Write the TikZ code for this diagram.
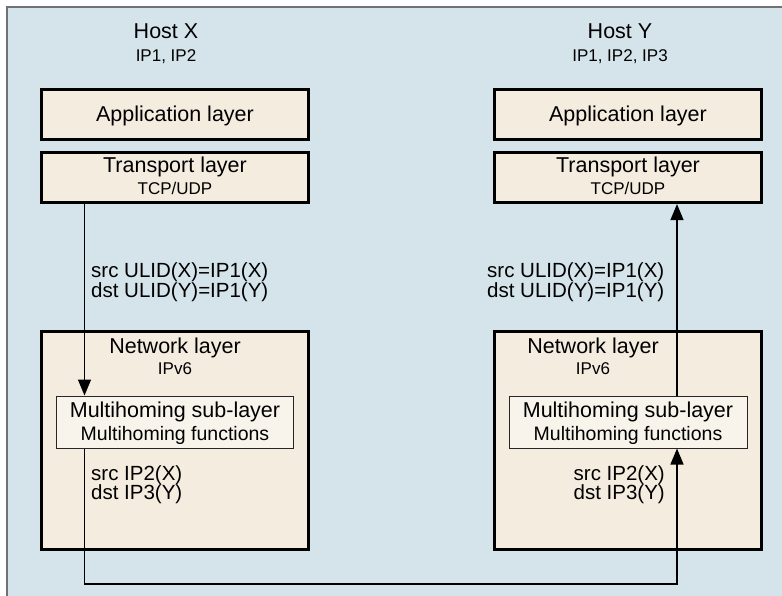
\documentclass[tikz,border=0pt]{standalone}
\usepackage{fontspec}
\setmainfont{Liberation Sans}
\usetikzlibrary{arrows.meta}

\definecolor{skyback}{HTML}{D5E3EB}
\definecolor{layerfill}{HTML}{F5ECE0}
\definecolor{subfill}{HTML}{F8F4EB}
\definecolor{framegray}{HTML}{6E7175}

\tikzset{
  layerbox/.style={draw=black, line width=3.2pt, fill=layerfill, rectangle,
    inner sep=0pt, minimum width=267pt},
  subbox/.style={draw=black!85, line width=1pt, fill=subfill, rectangle,
    inner sep=0pt, minimum width=237pt, minimum height=52pt},
  bigtxt/.style={inner sep=0pt, anchor=base, font=\fontsize{21.5}{24}\selectfont},
  midtxt/.style={inner sep=0pt, anchor=base, font=\fontsize{19.5}{22}\selectfont},
  smalltxt/.style={inner sep=0pt, anchor=base, font=\fontsize{17}{20}\selectfont},
  addrtxt/.style={inner sep=0pt, anchor=base west, font=\fontsize{20.5}{23}\selectfont},
  flow/.style={draw=black, line width=1.3pt,
    -{Triangle[length=16pt, width=13pt]}},
}

\begin{document}
\begin{tikzpicture}[x=1pt, y=-1pt]
\useasboundingbox (0,0) rectangle (782,596);
\clip (0,0) rectangle (782,596);

% page background and outer frame
\fill[white] (0,0) rectangle (782,596);
\filldraw[fill=skyback, draw=framegray, line width=2pt] (7,7) rectangle (820,640);

% ---------- Host X ----------
\node[bigtxt]   (hostX) at (166,39) {Host X};
\node[smalltxt] (ipX)   at (166,62) {IP1, IP2};

\node[layerbox, minimum height=50pt] (appX) at (175,114.5) {};
\node[bigtxt] (appXt) at (175,122) {Application layer};

\node[layerbox, minimum height=50pt] (trX) at (175,177.5) {};
\node[bigtxt]   (trXt)  at (175,173) {Transport layer};
\node[smalltxt] (trXs)  at (175,195) {TCP/UDP};

\node[layerbox, minimum height=218pt] (netX) at (175,440.5) {};
\node[bigtxt]   (netXt) at (175,353) {Network layer};
\node[smalltxt] (netXs) at (175,374) {IPv6};

\node[subbox] (mX) at (174.5,422) {};
\node[bigtxt] (mXt) at (175,417) {Multihoming sub-layer};
\node[midtxt] (mXs) at (175,440) {Multihoming functions};

\node[addrtxt] (ulidXa) at (91,277) {src ULID(X)=IP1(X)};
\node[addrtxt] (ulidXb) at (91,297) {dst ULID(Y)=IP1(Y)};
\node[addrtxt] (ipXa)   at (91,480) {src IP2(X)};
\node[addrtxt] (ipXb)   at (91,499) {dst IP3(Y)};

% ---------- Host Y ----------
\node[bigtxt]   (hostY) at (620,39) {Host Y};
\node[smalltxt] (ipY)   at (620,62) {IP1, IP2, IP3};

\node[layerbox, minimum height=50pt] (appY) at (628,114.5) {};
\node[bigtxt] (appYt) at (628,122) {Application layer};

\node[layerbox, minimum height=50pt] (trY) at (628,177.5) {};
\node[bigtxt]   (trYt)  at (628,173) {Transport layer};
\node[smalltxt] (trYs)  at (628,195) {TCP/UDP};

\node[layerbox, minimum height=218pt] (netY) at (628,440.5) {};
\node[bigtxt]   (netYt) at (593,353) {Network layer};
\node[smalltxt] (netYs) at (593,374) {IPv6};

\node[subbox, minimum width=238pt] (mY) at (628,422) {};
\node[bigtxt] (mYt) at (628,417) {Multihoming sub-layer};
\node[midtxt] (mYs) at (628,440) {Multihoming functions};

\node[addrtxt] (ulidYa) at (487,277) {src ULID(X)=IP1(X)};
\node[addrtxt] (ulidYb) at (487,297) {dst ULID(Y)=IP1(Y)};
\node[addrtxt, anchor=base east] (ipYa) at (665,480) {src IP2(X)};
\node[addrtxt, anchor=base east] (ipYb) at (665,499) {dst IP3(Y)};

% ---------- packet path ----------
\coordinate (xl)  at (84.5,0);
\coordinate (xr)  at (677,0);
\coordinate (bus) at (0,584);

\draw[flow] (trX.south -| xl) -- (mX.north -| xl);
\draw[flow] (mX.south -| xl) -- (xl |- bus) -| (mY.south -| xr);
\draw[flow] (mY.north -| xr) -- (trY.south -| xr);
\end{tikzpicture}
\end{document}
